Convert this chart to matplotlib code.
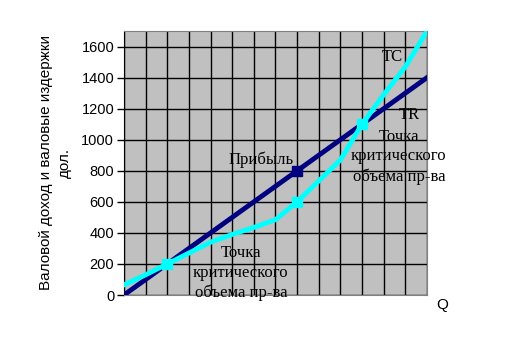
import matplotlib
matplotlib.use("Agg")
import matplotlib.pyplot as plt

q = list(range(15))
tr = [0, 100, 200, 300, 400, 500, 600, 700, 800, 900, 1000, 1100, 1200, 1300, 1400]
tc = [65, 130, 200, 270, 340, 390, 435, 485, 600, 735, 870, 1100, 1290, 1470, 1700]
tc_marks = [2, 8, 11]
tr_marks = [8]
yticks = [0, 200, 400, 600, 800, 1000, 1200, 1400, 1600]

SANS = "Liberation Sans"
SERIF = "Liberation Serif"


def main():
    fig = plt.figure(figsize=(5.23, 3.55), dpi=100)
    ax = fig.add_axes([0.237, 0.169, 0.5795, 0.7437])
    ax.set_facecolor("#C0C0C0")

    ax.plot(q, tr, color="#000080", lw=3.5, zorder=3)
    ax.plot(q, tc, color="#00FFFF", lw=3.5, zorder=4)
    ax.plot([q[i] for i in tr_marks], [tr[i] for i in tr_marks], "s",
            color="#000080", ms=7, zorder=5)
    ax.plot([q[i] for i in tc_marks], [tc[i] for i in tc_marks], "s",
            color="#00FFFF", ms=7, zorder=6)

    ax.set_xlim(0, 14)
    ax.set_ylim(0, 1700)
    ax.set_xticks(q)
    ax.set_xticklabels([])
    ax.tick_params(axis="x", length=0)
    ax.set_yticks(yticks)
    ax.set_yticklabels([str(v) for v in yticks], fontfamily=SANS, fontsize=10.5)
    ax.tick_params(axis="y", length=5, width=1, color="black", pad=2)
    ax.grid(True, color="black", lw=1, zorder=1)
    ax.set_axisbelow(True)

    for side in ["top", "right", "bottom"]:
        ax.spines[side].set_color("#808080")
    ax.spines["left"].set_color("black")

    ax.set_ylabel("Валовой доход и валовые издержки\nдол.", fontfamily=SANS,
                  fontsize=11, labelpad=7, linespacing=1.45)

    ax.text(12.4, 1535, "TC", fontfamily=SERIF, fontsize=12, ha="center", va="center")
    ax.text(13.2, 1160, "TR", fontfamily=SERIF, fontsize=12, ha="center", va="center")
    ax.text(12.7, 890, "Точка\nкритического\nобъема пр-ва", fontfamily=SERIF,
            fontsize=12, ha="center", va="center", linespacing=1.3)
    ax.text(6.35, 870, "Прибыль", fontfamily=SERIF, fontsize=12,
            ha="center", va="center")
    ax.text(5.4, 142, "Точка\nкритического\nобъема пр-ва", fontfamily=SERIF,
            fontsize=12, ha="center", va="center", linespacing=1.3, zorder=7)
    fig.text(442 / 523, 1 - 305 / 355, "Q", fontfamily=SANS, fontsize=11,
             ha="center", va="center")

    fig.savefig("out.png", dpi=100)


if __name__ == "__main__":
    main()
